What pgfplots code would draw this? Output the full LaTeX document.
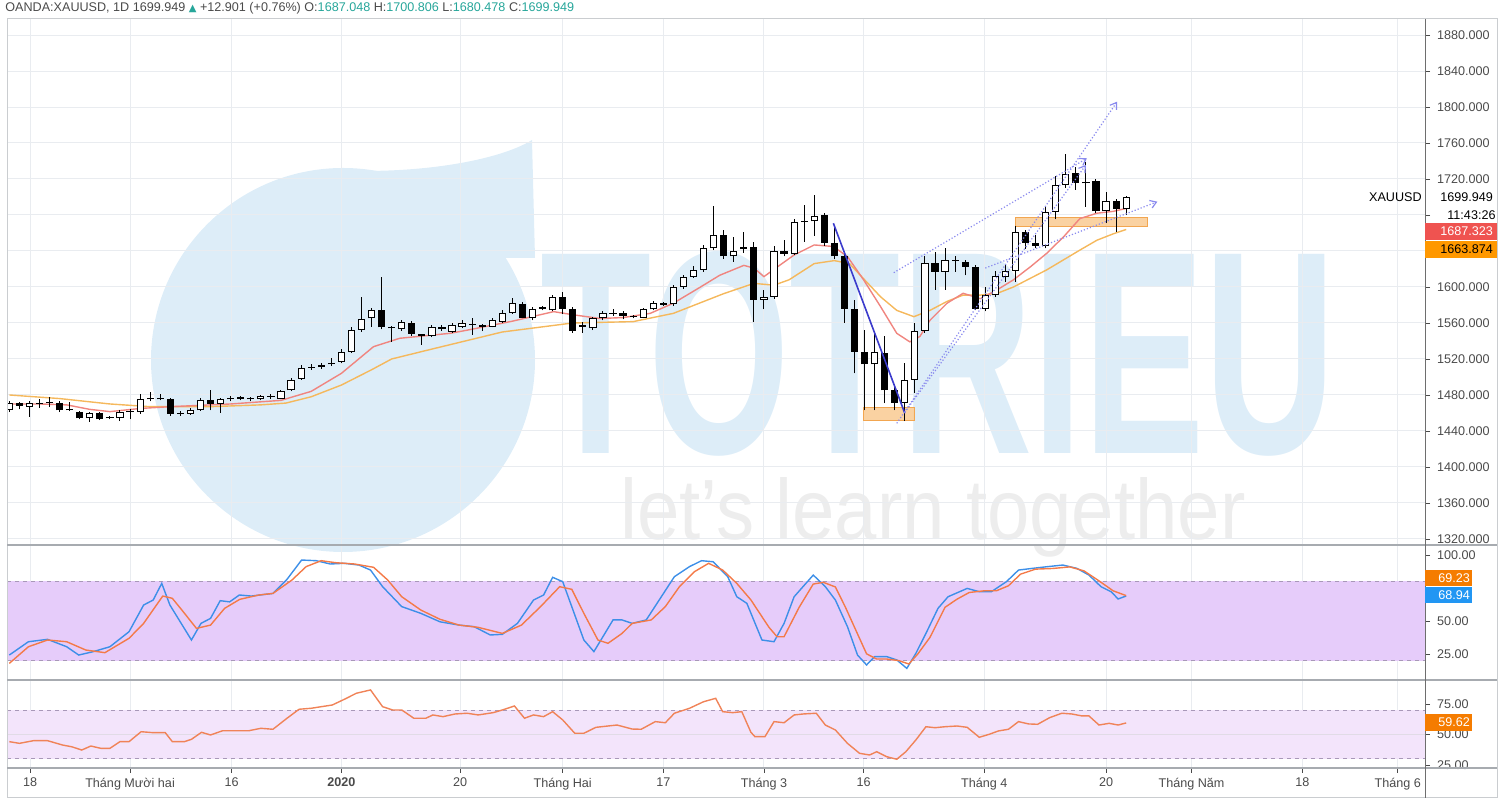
\documentclass[border=0pt]{standalone}
\usepackage{fontspec}
\setmainfont{Liberation Sans}
\newfontfamily\dejavu{DejaVu Sans}
\usepackage{graphicx}
\usepackage{pgfplots}
\usepackage{pgfplotstable}
\pgfplotsset{compat=1.18}
\usetikzlibrary{arrows.meta}

\definecolor{emared}{HTML}{F0857F}
\definecolor{emaora}{HTML}{F5B85C}
\definecolor{kblue}{HTML}{3D8FE8}
\definecolor{dora}{HTML}{F47A48}
\definecolor{rsiline}{HTML}{F08358}
\definecolor{bandstoch}{HTML}{E6CCFA}
\definecolor{bandrsi}{HTML}{F3E4FB}
\definecolor{bandline}{HTML}{A898B8}
\definecolor{gridc}{HTML}{E9ECF0}
\definecolor{sepc}{HTML}{A7ABB0}
\definecolor{lbl}{HTML}{4A4A4A}
\definecolor{tealv}{HTML}{26A69A}
\definecolor{wm}{HTML}{DDEDF8}
\definecolor{wmgray}{HTML}{EDEDED}
\definecolor{zonefill}{HTML}{F9CD98}
\definecolor{zonedraw}{HTML}{F2A650}
\definecolor{trendblue}{HTML}{3B3BCC}
\definecolor{dotblue}{HTML}{8A8AEE}
\definecolor{tagred}{HTML}{EF5350}
\definecolor{tagora}{HTML}{FF9800}
\definecolor{tagora2}{HTML}{F57C00}
\definecolor{tagblue}{HTML}{2196F3}

% daily candles, x = bar number
\pgfplotstableread{
i O H L C
0 1463 1473 1461 1471
2 1467 1473 1456 1471
3 1470 1475 1466 1471
4 1471 1478 1467 1472
8 1454 1461 1450 1460
10 1454 1457 1453 1455
11 1454 1463 1451 1461
12 1461 1464 1453 1462
13 1461 1481 1459 1476
17 1459 1462 1457 1460
18 1459 1465 1458 1463
19 1463 1477 1462 1474
21 1470 1477 1460 1476
22 1475 1479 1473 1476
23 1476 1479 1474 1476.5
25 1476 1480 1474 1479
26 1478 1481 1476 1478.5
27 1476 1486 1475 1484
28 1485 1499 1484 1497
29 1498 1513 1497 1510
30 1510 1514 1508 1511
31 1511 1516 1509 1513
32 1514 1521 1512 1514
33 1517 1531 1515 1528
34 1528 1555 1527 1552
35 1552 1589 1550 1564
36 1565 1577 1556 1574
39 1553 1563 1551 1561
41 1546 1548 1536 1546
42 1545.6 1558 1544 1556
44 1550 1560 1549 1558
45 1556 1563 1554 1560
46 1558 1566 1547 1558.5
47 1556 1559 1551 1556
48 1556 1565 1555 1563
49 1561.5 1574 1560 1571.5
50 1571.5 1588 1570 1582
52 1566 1578 1563 1576
53 1576 1579 1574 1576.5
54 1574 1591 1573 1589
57 1556 1561 1549 1556.5
58 1554 1567 1552 1565
59 1565 1573 1563 1571
60 1570 1576 1568 1571
62 1567 1569 1565 1567.5
63 1566 1577 1565 1575
64 1575 1584 1574 1582.6
66 1581 1602 1579 1600
67 1600 1613 1598 1611.5
68 1611.5 1623 1610 1619
69 1619 1647 1617 1643
70 1643 1690 1641 1658
72 1634 1656 1628 1640
73 1642 1661 1638 1644
75 1586 1597 1575 1589
76 1589 1646 1587 1640
78 1637 1675 1635 1672.6
79 1672 1691 1650 1673
80 1673 1702 1657 1679
86 1514 1550 1463 1528
89 1471.5 1515 1451 1497
90 1497 1560 1482 1551.5
91 1551.5 1634 1549 1627
93 1617 1643 1597 1630
94 1629 1634 1617 1629.5
97 1576 1600 1573 1591
98 1591 1618 1589 1612
99 1611.5 1625 1606 1618
100 1618 1668 1606 1661.5
103 1645.6 1689 1643 1683.7
104 1683.7 1723 1675 1713.3
105 1713.3 1748 1710 1726
109 1684 1705 1671 1696
111 1687.048 1700.806 1680.478 1699.949
}\upbars

\pgfplotstableread{
i O H L C
1 1471 1472 1464 1468
5 1471 1473 1461 1463
6 1464 1472 1462 1463
7 1461 1462 1453 1454
9 1460 1461 1452 1453
14 1477 1483 1473 1475
15 1476 1481 1474 1475
16 1475 1477 1457 1459
20 1474 1486 1463 1470
24 1475.5 1478 1473 1475
37 1574 1611 1553 1555
38 1555 1557 1539 1554
40 1560 1562 1546 1548
43 1556 1558 1551 1553
51 1581 1583 1565 1566
55 1589 1594 1570 1576
56 1576 1578 1549 1551.5
61 1571.5 1573 1564 1567.5
65 1582.6 1583 1579 1580
71 1658 1663 1631 1634
74 1644 1650 1561 1586
77 1640 1652 1634 1637
81 1680 1682 1646 1649
82 1649 1667 1631 1634
83 1634 1640 1560 1576
84 1576 1585 1504 1528
85 1528 1552 1463 1514
87 1527 1546 1471 1485
88 1485 1490 1463 1471.5
92 1627 1639 1597 1617
95 1628 1630 1613 1622.6
96 1622 1624 1574 1576
101 1661.5 1663 1642 1649
102 1648.6 1658 1643 1646
106 1727 1733 1708 1716
107 1716 1739 1689 1715
108 1718 1720 1682 1684
110 1696 1698 1661.5 1687
}\downbars

\pgfplotstableread{
i v
0 1470
3 1470
5.7 1469
8 1464
10 1461.5
13 1465
16 1467
22 1470
27 1474
30 1484
33 1504
36.2 1533.7
38.8 1543
43.8 1548.5
45.5 1552
50 1562
54.1 1572.6
56.1 1569
58.7 1565
61 1566
63.7 1570.7
66 1582
68.7 1600
70.6 1613
73 1624
74 1621
75 1611.5
76.3 1622
78 1635.6
80 1646.7
81.9 1645
83.3 1633.7
84.9 1608
86.6 1578
88.2 1548.5
89.5 1539
90.5 1545
91.5 1563
93.2 1582
94.8 1593
96.5 1587
98.2 1597
99.8 1608
101.5 1622.6
103.1 1637.4
104.8 1656
106.4 1676
108.1 1682
109.7 1684
111 1687.3
}\emafast

\pgfplotstableread{
i v
0 1480
5 1476
10 1470
14 1467
20 1467
25 1469
27.5 1471
30 1478
33 1491
36 1508
38 1520
42 1531
49 1550
56 1560
62 1561.5
66 1570.7
71 1592.6
74 1604
76 1602
77.5 1608
80 1626
82 1629.3
83.5 1626
85 1608
86.6 1589
88.2 1574
89.9 1567
91.5 1574
93.2 1584
94.8 1591
96.5 1591
98.2 1593
99.8 1600
103.1 1619
106.4 1641
108.1 1652
109.7 1659
111 1663.9
}\emaslow

\pgfplotstableread{
i v
0 24.2
1.9 34.3
3.8 36.1
5.7 30.5
6.9 24.2
8.35 26.8
10 30.5
11.9 41.9
13.35 62.1
14.3 65.9
15.15 78.5
15.96 62.1
18.1 35.6
19.05 48.2
20 52
20.96 65.4
21.9 64.5
22.86 69.7
24.05 68.9
26.2 70.9
27.6 81.6
29.05 96.2
30.5 95.7
31.9 93.2
33.3 93.7
34.75 92.4
35.9 88.6
37.1 76
39 60.9
40.9 55.8
42.8 49.4
44.7 46.9
46.2 45.7
47.8 39.4
49 39.9
50.5 48.2
52.1 65.9
53.1 69.7
54 83.1
55 79.8
57.1 35.6
58.1 26.8
60 50.8
60.9 50.8
61.9 48.2
63.3 50.8
64.7 67.2
66.1 83.6
67.6 91.2
68.8 95.7
69.95 94.9
71.4 83.6
72.3 68.4
73.3 63.4
74.8 35.6
76 34.3
77 48.2
78 68.4
79.9 84.8
81.1 76
82.1 65.9
83.3 45.7
84.3 24.2
85.2 16.7
86 23
87.2 23
88.2 20.5
89.2 14.1
90.1 25.5
91.1 40.6
92.3 59.6
93.3 68.4
95.2 74.7
96.4 72.2
97.6 72.2
99.1 79.8
100.3 88.6
101.7 89.9
103.2 91.2
104.7 92.4
106.1 89.9
107.3 84.8
108.5 76
109.5 72.2
110.2 66.7
111 68.94
}\stochk

\pgfplotstableread{
i v
0 17.9
1.9 30.5
3.8 35.6
5.7 34.3
7.6 28
9.5 26
11.9 36.9
13.35 48.2
15.25 68.9
16.2 67.2
17.15 58.3
18.6 44.4
20 46.9
21.4 59.6
22.9 66.4
24.8 69.7
26.2 70.9
28.1 81.1
29.5 91.2
31 95.7
32.4 94.2
34.3 93.2
36.2 90.7
37.6 81.1
39 68.4
40.9 58.3
42.8 51.3
44.7 46.9
46.6 45.2
49 40.6
50.9 46.9
52.8 60.9
54.7 76
55.9 74
57.1 55.8
58.5 35.6
59.5 33.1
60.9 40.6
61.9 48.2
63.8 50.8
65.2 60.9
66.6 76
68.1 87.4
69.5 93.7
70.9 88.6
72.3 78.5
73.7 66
75.5 45.2
76.3 38.1
77 38.1
78.5 60.4
79.9 78
80.9 79.3
82.1 75.8
83.1 60.4
84.3 40.2
85.2 25.1
86.2 21.2
87.2 21.2
88.4 20
89.4 17.4
90.3 25.1
91.5 37.6
93 60.4
94.2 66.6
95.4 71.6
96.9 72.9
98.1 72.9
99.3 76.7
100.5 85.5
102 89.3
103.7 89.8
105.4 91
106.8 88
108.3 80.4
109.7 72.9
111 69.23
}\stochd

\pgfplotstableread{
i v
0 44.2
1 42.8
2.4 45
3.8 45
5.3 41.4
6.2 40
7.2 37.3
8.1 40.6
9.1 38.7
10 38.7
11 44.2
11.9 44.2
13.1 52.4
14.3 51.6
15.5 51.6
16.2 44.2
17.4 44.2
18.1 46.1
19.1 51.9
20 49.7
21.2 53.2
22.4 53.2
23.8 53.2
25 55.2
26.2 54.4
27.6 63.5
28.8 70.9
30 71.7
31 73
32.1 74.4
33.3 79.1
34.5 84.1
35.9 86.8
37.1 73
38.1 70.3
39 70.3
40.2 63.5
41.4 63.5
42.1 66.2
43.1 64.8
44.3 67
45.5 67.6
46.6 66.2
48.1 68.1
49 70.3
50.2 73.6
51.2 63.5
52.1 66.2
53.1 64.8
54 68.9
55 62.1
56.2 51.1
57.1 51.1
58.3 56
59.5 57.1
60.4 57.9
61.9 54.6
62.8 54.4
64.2 60.7
65.2 59.8
66.1 67.6
67.6 71.7
69 77.1
70.2 79.9
70.9 68.9
71.9 68.1
72.8 68.9
73.7 52
74.1 48.3
75.1 48.3
76 60.7
77 59.8
78 66.2
78.9 67
80.2 67.6
81.1 57.9
82.1 53.8
83.3 42.8
84.5 34.6
85.5 33.2
86.2 35.9
87.2 31.8
88.2 29.7
89.1 35.9
90.1 45.6
91.1 56.5
92 55.7
93 56.5
94.2 57.1
95.2 56
96.4 47.8
97.4 50.3
98.3 53
99.3 54.4
100.3 60.7
101.3 58.8
102.2 58.5
103.4 64
104.6 67.6
105.6 67
106.6 65.4
107.3 65.4
108.3 57.9
109.3 59.3
110.2 57.9
111 59.62
}\rsi

\pgfplotsset{
  panel/.style={
    anchor=south west, scale only axis, width=709pt,
    xmin=-0.23, xmax=140.7,
    axis line style={draw=none},
    xtick={2.06,12.0,22.1,33.0,44.8,55.0,65.0,75.0,84.9,96.9,109.0,117.5,128.5,138.0},
    ytick pos=right, yticklabel pos=right,
    tick align=outside, major tick length=2.5pt,
    ytick style={draw=lbl, line width=0.4pt},
    major grid style={draw=gridc, line width=0.5pt},
    tick label style={font=\fontsize{6.3}{7.5}\selectfont, text=lbl},
    yticklabel style={anchor=west, xshift=0pt},
  },
  candle/.style={draw=none, mark=none, forget plot},
}

\begin{document}
\begin{tikzpicture}
\useasboundingbox (0pt,0pt) rectangle (750pt,400.5pt);

% watermark
\fill[wm] (171.5pt,220.5pt) circle (96pt);
\fill[wm] (165pt,315.5pt) .. controls (210pt,313pt) and (250pt,320.5pt) .. (266pt,330.5pt)
  -- (267.5pt,271.5pt) -- (230pt,271.5pt) -- cycle;
\node[anchor=south west, inner sep=0pt, text=wm] at (270pt,172pt)
  {\resizebox{397.5pt}{101pt}{\bfseries TOTRIEU}};
\node[anchor=base west, inner sep=0pt, text=wmgray] at (310pt,130.5pt)
  {\resizebox{312.5pt}{31pt}{let’s learn together}};

% main price panel
\begin{axis}[panel, at={(3.5pt,128pt)}, height=263pt,
  ymin=1313.3, ymax=1897.8,
  xticklabels={}, xtick style={draw=none},
  ytick={1320,1360,...,1880},
  yticklabels={1320.000,1360.000,1400.000,1440.000,1480.000,1520.000,1560.000,1600.000,{},{},1720.000,1760.000,1800.000,1840.000,1880.000},
  xmajorgrids, ymajorgrids]
\addplot[fill=zonefill, draw=zonedraw, line width=0.4pt, fill opacity=0.9]
  coordinates {(84.9,1451.4) (90.0,1451.4) (90.0,1465.9) (84.9,1465.9) (84.9,1451.4)};
\addplot[fill=zonefill, draw=zonedraw, line width=0.4pt, fill opacity=0.9]
  coordinates {(100.0,1667) (113.1,1667) (113.1,1677) (100.0,1677) (100.0,1667)};
\addplot[emaora, line width=0.7pt] table[x=i, y=v] {\emaslow};
\addplot[emared, line width=0.7pt] table[x=i, y=v] {\emafast};
% wicks
\addplot[candle, error bars/.cd, y dir=plus, y explicit, error mark=none,
  error bar style={line width=0.5pt, draw=black}]
  table[x=i, y=L, y error expr=\thisrow{H}-\thisrow{L}] {\upbars};
\addplot[candle, error bars/.cd, y dir=plus, y explicit, error mark=none,
  error bar style={line width=0.5pt, draw=black}]
  table[x=i, y=L, y error expr=\thisrow{H}-\thisrow{L}] {\downbars};
% bodies
\addplot[candle, error bars/.cd, y dir=plus, y explicit, error mark=none,
  error bar style={line width=3.6pt, draw=black}]
  table[x=i, y=O, y error expr={max(\thisrow{C}-\thisrow{O},1.3)}] {\upbars};
\addplot[candle, error bars/.cd, y dir=plus, y explicit, error mark=none,
  error bar style={line width=2.6pt, draw=white}]
  table[x=i, y expr=\thisrow{O}+1.1, y error expr={max(\thisrow{C}-\thisrow{O}-2.2,0)}] {\upbars};
\addplot[candle, error bars/.cd, y dir=plus, y explicit, error mark=none,
  error bar style={line width=3.6pt, draw=black}]
  table[x=i, y=C, y error expr={max(\thisrow{O}-\thisrow{C},1.3)}] {\downbars};
% drawings
\addplot[trendblue, line width=0.8pt] coordinates {(81.9,1670.8) (89.0,1459.7)};
\addplot[dotblue, densely dotted, line width=0.6pt, -{Straight Barb[length=3pt,width=4pt]}]
  coordinates {(88.2,1448.5) (110.1,1805.9)};
\addplot[dotblue, densely dotted, line width=0.6pt, -{Straight Barb[length=3pt,width=4pt]}]
  coordinates {(87.9,1615.9) (107.1,1743.0)};
\addplot[dotblue, densely dotted, line width=0.6pt, -{Straight Barb[length=3pt,width=4pt]}]
  coordinates {(89.0,1460.8) (107.0,1735.6)};
\addplot[dotblue, densely dotted, line width=0.6pt, -{Straight Barb[length=3pt,width=4pt]}]
  coordinates {(97.0,1621) (114.1,1694.8)};
\end{axis}

% stochastic panel
\begin{axis}[panel, at={(3.5pt,60.5pt)}, height=67.5pt,
  ymin=5.3, ymax=107.6,
  xticklabels={}, xtick style={draw=none},
  ytick={25,50,100}, yticklabels={25.00,50.00,100.00},
  xmajorgrids]
\addplot[draw=none, fill=bandstoch] coordinates {(-0.23,20) (140.7,20) (140.7,80) (-0.23,80)};
\addplot[bandline, line width=0.5pt, dash pattern=on 2pt off 2pt] coordinates {(-0.23,80) (140.7,80)};
\addplot[bandline, line width=0.5pt, dash pattern=on 2pt off 2pt] coordinates {(-0.23,20) (140.7,20)};
\addplot[kblue, line width=0.7pt] table[x=i, y=v] {\stochk};
\addplot[dora, line width=0.7pt] table[x=i, y=v] {\stochd};
\end{axis}

% rsi panel
\begin{axis}[panel, at={(3.5pt,16.5pt)}, height=44pt,
  ymin=22.5, ymax=95,
  xtick pos=bottom, xtick style={draw=lbl, line width=0.4pt},
  xticklabels={18,Tháng Mười hai,16,\textbf{2020},20,Tháng Hai,17,Tháng 3,16,Tháng 4,20,Tháng Năm,18,Tháng 6},
  xticklabel style={yshift=1pt},
  ytick={25,50,75}, yticklabels={25.00,50.00,75.00},
  xmajorgrids]
\addplot[draw=none, fill=bandrsi] coordinates {(-0.23,30) (140.7,30) (140.7,70) (-0.23,70)};
\addplot[bandline, line width=0.5pt, dash pattern=on 2pt off 2pt] coordinates {(-0.23,70) (140.7,70)};
\addplot[bandline, line width=0.5pt, dash pattern=on 2pt off 2pt] coordinates {(-0.23,30) (140.7,30)};
\addplot[bandline!35, line width=0.4pt] coordinates {(-0.23,50) (140.7,50)};
\addplot[rsiline, line width=0.7pt] table[x=i, y=v] {\rsi};
\end{axis}

% frame and separators
\draw[sepc!60, line width=0.5pt] (3.5pt,1.5pt) rectangle (748.5pt,391pt);
\draw[sepc, line width=1.1pt] (3.5pt,128pt) -- (748.5pt,128pt);
\draw[sepc, line width=1.1pt] (3.5pt,60.5pt) -- (748.5pt,60.5pt);
\draw[sepc, line width=1.1pt] (3.5pt,16.5pt) -- (748.5pt,16.5pt);
\draw[lbl!80, line width=0.5pt] (712.5pt,1.5pt) -- (712.5pt,391pt);

% header
\node[anchor=west, inner sep=0pt, font=\fontsize{6.3}{7.5}\selectfont, text=lbl] at (2.5pt,396.5pt)
  {OANDA:XAUUSD, 1D 1699.949 \textcolor{tealv}{\dejavu\fontsize{5}{6}\selectfont ▲} +12.901 (+0.76\%) O:\textcolor{tealv}{1687.048} H:\textcolor{tealv}{1700.806} L:\textcolor{tealv}{1680.478} C:\textcolor{tealv}{1699.949}};

% price scale labels
\begin{scope}[every node/.style={inner sep=0pt, font=\fontsize{6.3}{7.5}\selectfont}]
\node[anchor=east] at (711pt,302pt) {XAUUSD};
\node[anchor=west] at (720pt,302pt) {1699.949};
\node[anchor=west] at (723.5pt,293pt) {11:43:26};
\fill[tagred] (712.5pt,280.5pt) rectangle (748.5pt,289pt);
\node[anchor=west, text=white] at (720pt,284.75pt) {1687.323};
\fill[tagora] (712.5pt,271.5pt) rectangle (748.5pt,280pt);
\node[anchor=west, text=black] at (720pt,275.75pt) {1663.874};
\fill[tagora2] (712.5pt,107.5pt) rectangle (736pt,115.5pt);
\node[anchor=west, text=white] at (719pt,111.5pt) {69.23};
\fill[tagblue] (712.5pt,99pt) rectangle (736pt,107pt);
\node[anchor=west, text=white] at (719pt,103pt) {68.94};
\fill[tagora2] (712.5pt,35pt) rectangle (736pt,43.5pt);
\node[anchor=west, text=white] at (719pt,39.25pt) {59.62};
\end{scope}
\end{tikzpicture}
\end{document}
